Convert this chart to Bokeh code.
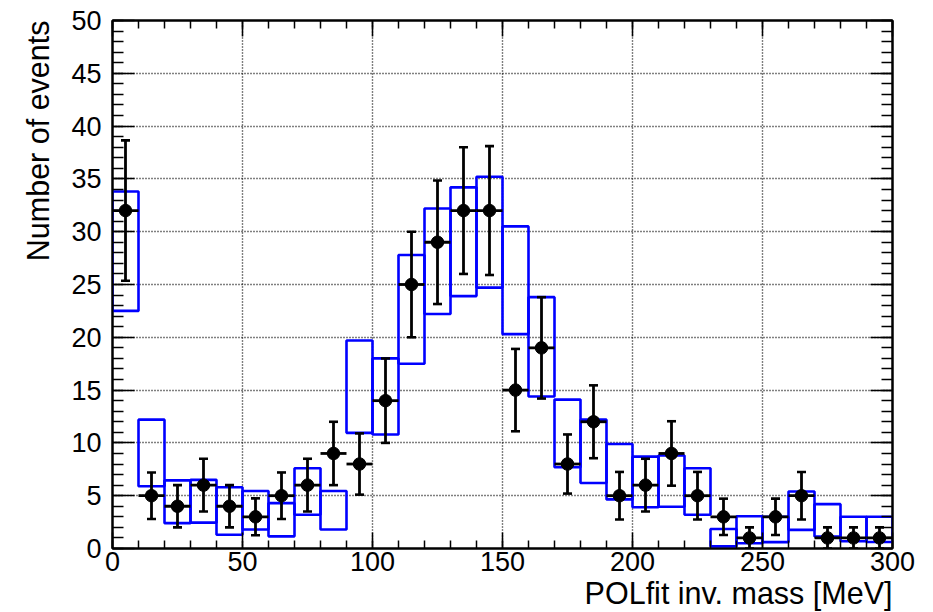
import numpy as np
from bokeh.embed import file_html
from bokeh.models import (ColumnDataSource, CustomJSTickFormatter, LinearAxis,
                          Range1d, SingleIntervalTicker, Title)
from bokeh.plotting import figure
from bokeh.resources import INLINE

# Histogram binning: 30 bins of 10 MeV from 0 to 300 MeV
bin_width = 10
bin_low = list(range(0, 300, bin_width))

# Measured counts per bin and their uncertainties
counts = [32, 5, 4, 6, 4, 3, 5, 6, 9, 8,
          14, 25, 29, 32, 32, 15, 19, 8, 12, 5,
          6, 9, 5, 3, 1, 3, 5, 1, 1, 1]
count_err = [6.65, 2.2, 2.0, 2.5, 2.0, 1.75, 2.2, 2.5, 3.0, 2.9,
             4.0, 5.0, 5.85, 6.0, 6.1, 3.9, 4.8, 2.8, 3.45, 2.25,
             2.5, 3.05, 2.25, 1.72, 1.0, 1.72, 2.25, 1.0, 1.0, 1.0]

# Simulation band per bin (lower and upper edge)
mc_low = [22.5, 5.9, 2.4, 2.45, 1.3, 1.8, 1.15, 3.2, 1.8, 10.95,
          10.8, 17.5, 22.2, 23.9, 24.7, 20.3, 14.4, 7.7, 6.2, 4.65,
          3.9, 3.95, 3.2, 0.2, 0.5, 0.6, 1.76, 1.14, 0.68, 0.62]
mc_high = [33.8, 12.2, 6.45, 6.5, 5.8, 5.45, 4.3, 7.6, 5.45, 19.7,
           18.0, 27.8, 32.2, 34.2, 35.2, 30.5, 23.8, 14.1, 12.2, 9.9,
           8.7, 8.8, 7.6, 1.85, 3.05, 3.0, 5.4, 4.2, 3.0, 3.0]

x_title = "POLfit inv. mass [MeV]"
y_title = "Number of events"

FONT = "Liberation Sans"
BLUE = "#0000ff"

lo = np.array(bin_low, dtype=float)
hi = lo + bin_width
ctr = lo + bin_width / 2
n = np.array(counts, dtype=float)
e = np.array(count_err, dtype=float)

band = ColumnDataSource(dict(left=lo, right=hi, bottom=mc_low, top=mc_high))
pts = ColumnDataSource(dict(x=ctr, y=n, lo=lo, hi=hi,
                            ylo=np.clip(n - e, 0, None), yhi=n + e))

p = figure(width=933, height=612,
           x_range=Range1d(0, 300), y_range=Range1d(0, 50),
           output_backend="svg", toolbar_location=None,
           min_border_left=112, min_border_right=41,
           min_border_top=20, min_border_bottom=64,
           background_fill_color="white", border_fill_color="white")
p.outline_line_color = "black"
p.outline_line_width = 2

x_ticker = SingleIntervalTicker(interval=50, num_minor_ticks=5)
y_ticker = SingleIntervalTicker(interval=5, num_minor_ticks=5)
p.xaxis.ticker = x_ticker
p.yaxis.ticker = y_ticker
p.xgrid.ticker = x_ticker
p.ygrid.ticker = y_ticker


def style_axis(ax, major, minor):
    ax.axis_line_color = "black"
    ax.axis_line_width = 2
    ax.major_tick_in = major
    ax.major_tick_out = 0
    ax.minor_tick_in = minor
    ax.minor_tick_out = 0
    ax.major_tick_line_color = "black"
    ax.minor_tick_line_color = "black"
    ax.major_tick_line_width = 1.5
    ax.minor_tick_line_width = 1.5
    ax.major_label_text_font = FONT
    ax.major_label_text_font_size = "27px"
    ax.major_label_text_color = "black"


style_axis(p.xaxis[0], 16, 8)
style_axis(p.yaxis[0], 22, 11)
p.xaxis.major_label_standoff = 3
p.yaxis.major_label_standoff = 11

# Mirrored tick marks on the top and right edges of the frame
blank = CustomJSTickFormatter(code="return ''")
top_axis = LinearAxis(ticker=x_ticker, formatter=blank)
right_axis = LinearAxis(ticker=y_ticker, formatter=blank)
style_axis(top_axis, 16, 8)
style_axis(right_axis, 22, 11)
top_axis.major_label_standoff = 0
right_axis.major_label_standoff = 0
p.add_layout(top_axis, "above")
p.add_layout(right_axis, "right")

for g in (p.xgrid[0], p.ygrid[0]):
    g.grid_line_color = "black"
    g.grid_line_dash = "1 2"
    g.grid_line_width = 1.4

# Simulation band as open boxes
p.quad(left="left", right="right", bottom="bottom", top="top", source=band,
       fill_color=None, line_color=BLUE, line_width=2.6)

# Data points with error bars
p.segment(x0="x", y0="ylo", x1="x", y1="yhi", source=pts,
          line_color="black", line_width=2.8)
p.segment(x0="lo", y0="y", x1="hi", y1="y", source=pts,
          line_color="black", line_width=2.8)
p.scatter(x="x", y="yhi", source=pts, marker="dash", size=9,
          line_color="black", line_width=2.6)
p.scatter(x="x", y="ylo", source=pts, marker="dash", size=9,
          line_color="black", line_width=2.6)
p.scatter(x="x", y="y", source=pts, marker="circle", size=12.5,
          fill_color="black", line_color="black")

# Axis titles, aligned to the far ends of the axes
p.add_layout(Title(text=x_title, align="right", standoff=0,
                   text_font=FONT, text_font_size="30.5px",
                   text_font_style="normal", text_color="black"), "below")
p.add_layout(Title(text=y_title, align="right", standoff=28,
                   text_font=FONT, text_font_size="30.5px",
                   text_font_style="normal", text_color="black"), "left")

open("out.html", "w").write(file_html(p, INLINE))
